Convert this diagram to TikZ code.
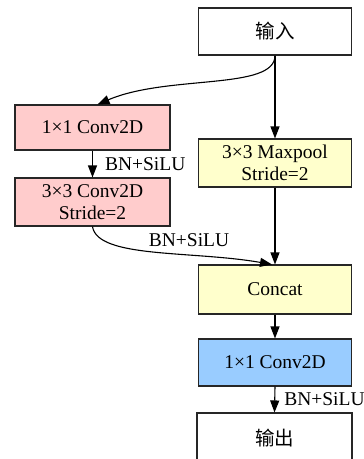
\documentclass[tikz,border=0pt]{standalone}
\usepackage{fontspec}
\setmainfont{Liberation Serif}
\newfontfamily\cjk{Noto Sans CJK SC}
\usetikzlibrary{arrows.meta}
\definecolor{pinkf}{HTML}{FFCCCC}
\definecolor{yellowf}{HTML}{FFFFCC}
\definecolor{bluef}{HTML}{99CCFF}
\tikzset{
  box/.style={draw=black!85, line width=1.1pt, minimum width=153pt, minimum height=47pt, inner sep=2pt, align=center, font=\fontsize{19.5}{22}\selectfont},
  arr/.style={-{Triangle[length=12pt,width=9pt]}, line width=1.1pt},
  lbl/.style={font=\fontsize{19.5}{22}\selectfont, inner sep=1pt, anchor=west}
}
\begin{document}
\begin{tikzpicture}[x=1pt,y=-1pt]
\useasboundingbox (0,0) rectangle (364,459);
\node[box, fill=white] (in) at (275,31.5) {\cjk 输入};
\node[box, fill=pinkf, minimum width=155pt, minimum height=45pt] (c1) at (92.5,127.5) {1×1 Conv2D};
\node[box, fill=yellowf, minimum height=48pt] (mp) at (275,163) {3×3 Maxpool\\Stride=2};
\node[box, fill=pinkf, minimum width=155pt, minimum height=48pt] (c2) at (92.5,202) {3×3 Conv2D\\Stride=2};
\node[box, fill=yellowf, minimum height=49pt] (cc) at (275,289.5) {Concat};
\node[box, fill=bluef] (c3) at (275,362.5) {1×1 Conv2D};
\node[box, fill=white, minimum width=155pt, minimum height=50pt] (out) at (274.5,438) {\cjk 输出};
\draw[arr] (in.south) .. controls +(0,35) and +(70,-30) .. ([xshift=5pt]c1.north);
\draw[arr] (in.south) -- (mp.north);
\draw[arr] (c1.south) -- (c2.north) node[lbl, midway, xshift=11pt] {BN+SiLU};
\draw[arr] (c2.south) .. controls +(5,32) and +(-80,-14) .. ([xshift=-3pt]cc.north);
\node[lbl, anchor=center] (l2) at (189,240) {BN+SiLU};
\draw[arr] (mp.south) -- (cc.north);
\draw[arr] (cc.south) -- (c3.north);
\draw[arr] (c3.south) -- (out.north) node[lbl, midway, xshift=8pt] {BN+SiLU};
\end{tikzpicture}
\end{document}
